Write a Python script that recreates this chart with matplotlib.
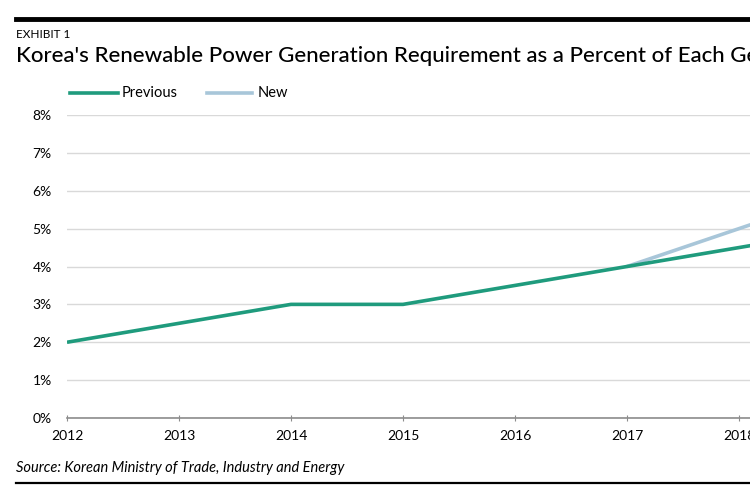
import matplotlib
matplotlib.use("Agg")
import matplotlib.pyplot as plt
from matplotlib.lines import Line2D

years = [2012, 2013, 2014, 2015, 2016, 2017, 2018, 2019]
previous = [2.0, 2.5, 3.0, 3.0, 3.5, 4.0, 4.5, 5.0]
new_years = [2017, 2018, 2019]
new_vals = [4.0, 5.0, 6.0]
yticks = [0, 1, 2, 3, 4, 5, 6, 7, 8]
xticks = [2012, 2013, 2014, 2015, 2016, 2017, 2018]

green = "#1f9b7d"
lightblue = "#a8c6d9"

plt.rcParams['font.family'] = ['Lato', 'DejaVu Sans']

fig = plt.figure(figsize=(7.5, 4.95), dpi=100)
W, H = 750, 495

# axes run past the right edge, the reference is cropped there
x0, xstep = 67, 112
ax = fig.add_axes([x0 / W, 1 - 418 / H, (8 * xstep) / W, (418 - 115) / H])
ax.set_xlim(2012, 2020)
ax.set_ylim(0, 8)

ax.plot(years, previous, color=green, lw=2.6, zorder=3, solid_capstyle='butt')
ax.plot(new_years, new_vals, color=lightblue, lw=2.6, zorder=2, solid_capstyle='butt')

for s in ['top', 'right', 'left']:
    ax.spines[s].set_visible(False)
ax.spines['bottom'].set_color('#8c8c8c')
ax.spines['bottom'].set_linewidth(1.2)
ax.set_yticks(yticks)
ax.set_yticklabels([f"{v}%" for v in yticks], fontsize=10)
ax.set_xticks(xticks + [2019, 2020])
ax.set_xticklabels([str(y) for y in xticks] + ["", ""], fontsize=10)
ax.tick_params(axis='y', length=0, pad=11)
ax.tick_params(axis='x', direction='inout', length=5, color='#8c8c8c', pad=6)
ax.grid(axis='y', color='#d9d9d9', lw=1)
ax.set_axisbelow(True)

# header / footer
fig.add_artist(Line2D([16 / W, 1], [1 - 19 / H] * 2, color='black', lw=3.5))
fig.add_artist(Line2D([16 / W, 1], [1 - 483 / H] * 2, color='black', lw=1.6))
fig.text(16 / W, 1 - 35 / H, "EXHIBIT 1", fontsize=8.5, va='center', ha='left')
fig.text(16 / W, 1 - 56 / H, "Korea's Renewable Power Generation Requirement as a Percent of Each Generator's Output",
         fontsize=16, va='center', ha='left', fontweight='medium')
fig.text(16 / W, 1 - 468 / H, "Source: Korean Ministry of Trade, Industry and Energy",
         fontsize=10.5, style='italic', va='center', ha='left')

# legend
ly = 1 - 93 / H
fig.add_artist(Line2D([70 / W, 118 / W], [ly, ly], color=green, lw=2.6))
fig.text(122 / W, ly, "Previous", fontsize=10.5, va='center', ha='left')
fig.add_artist(Line2D([207 / W, 252 / W], [ly, ly], color=lightblue, lw=2.6))
fig.text(258 / W, ly, "New", fontsize=10.5, va='center', ha='left')

fig.savefig("out.png", dpi=100)
